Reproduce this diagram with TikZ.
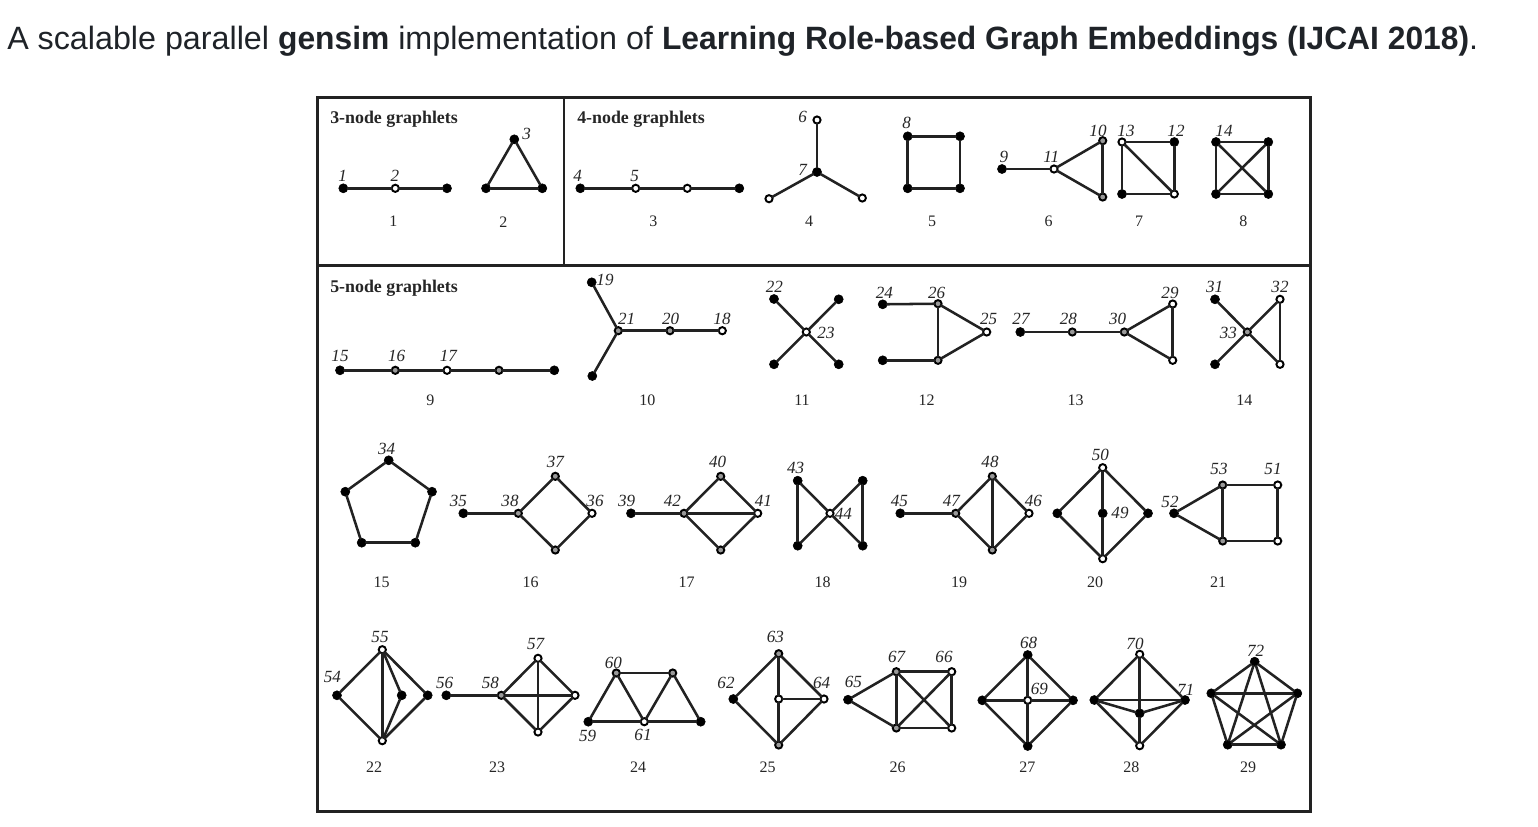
\documentclass[tikz,border=0pt]{standalone}
\usepackage{fontspec}
\setmainfont{Liberation Serif}
\newfontfamily\titlefont[BoldFeatures={FakeStretch=0.985}]{Liberation Sans}
\definecolor{ink}{HTML}{1F2328}
\definecolor{lnc}{HTML}{222222}
\tikzset{
  vtx/.style={circle,inner sep=0pt,outer sep=0pt,draw=black},
  blk/.style={vtx,fill=black,minimum size=6.8pt,line width=0.4pt},
  wht/.style={vtx,fill=white,minimum size=5.4pt,line width=1.45pt},
  gry/.style={vtx,fill=black!40,minimum size=5.4pt,line width=1.45pt},
  gedge/.style={draw=lnc,line width=1.9pt,line cap=round},
  gframe/.style={draw=lnc,line width=1.8pt},
  lbl/.style={font=\fontsize{12.8}{13}\selectfont\itshape,text=black!85,inner sep=0pt},
  captxt/.style={font=\fontsize{12}{13}\selectfont,text=black!85,inner sep=0pt},
  headtxt/.style={font=\fontsize{13.4}{14}\selectfont\bfseries,text=black!85,inner sep=0pt,anchor=west},
  titl/.style={font=\fontsize{24.2}{28}\titlefont,text=ink,inner sep=0pt,anchor=west}
}
\newcommand\bn[3]{\node[blk] (#1) at (#2,#3) {};}
\newcommand\wn[3]{\node[wht] (#1) at (#2,#3) {};}
\newcommand\gn[3]{\node[gry] (#1) at (#2,#3) {};}
\newcommand\lb[3]{\node[lbl] (lab#3) at (#1,#2) {#3};}
\newcommand\cp[3]{\node[captxt] (cap#3) at (#1,#2) {#3};}
\newcommand\ed[1]{\foreach \p/\q in {#1} {\draw[gedge] (\p) -- (\q);}}
\begin{document}
\begin{tikzpicture}[x=0.75pt,y=-0.75pt]
\useasboundingbox[fill=white] (0,0) rectangle (1538,826);
\node[titl] (title) at (7,41.5) {A scalable parallel \textbf{gensim} implementation of \textbf{Learning Role-based Graph Embeddings (IJCAI 2018)}.};
% frame
\coordinate (fa) at (317.5,97.5); \coordinate (fb) at (1310.5,811.5);
\coordinate (hl) at (317.5,265.5); \coordinate (hr) at (1310.5,265.5);
\coordinate (vt) at (564,97.5); \coordinate (vb) at (564,265.5);
\draw[gframe] (fa) rectangle (fb);
\draw[gframe] (hl) -- (hr);
\draw[gframe] (vt) -- (vb);
\node[headtxt] (h3) at (330,119.5) {3-node graphlets};
\node[headtxt] (h4) at (577,119.5) {4-node graphlets};
\node[headtxt] (h5) at (330,288.5) {5-node graphlets};
% G1
\bn{a1}{343.3}{188.3}\wn{a2}{395.3}{188.3}\bn{a3}{447}{188.3}
\ed{a1/a2,a2/a3}
\lb{342.7}{176}{1}\lb{395}{176}{2}
% G2
\bn{b1}{514.3}{139.3}\bn{b2}{486}{188.3}\bn{b3}{542.3}{188.3}
\ed{b1/b2,b2/b3,b3/b1}
\lb{526.7}{134}{3}
% G3
\bn{c1}{580.3}{188.3}\wn{c2}{635.7}{188.3}\wn{c3}{687.3}{188.3}\bn{c4}{739.3}{188.3}
\ed{c1/c2,c2/c3,c3/c4}
\lb{577.7}{176}{4}\lb{634.7}{176}{5}
% G4
\bn{d0}{817}{172}\wn{d1}{817}{120}\wn{d2}{862.3}{198}\wn{d3}{769}{198.7}
\ed{d0/d1,d0/d2,d0/d3}
\lb{802.7}{116.7}{6}\lb{802.7}{170}{7}
% G5
\bn{e1}{907.7}{136.3}\bn{e2}{960}{136.3}\bn{e3}{907.7}{188.3}\bn{e4}{960}{188.3}
\ed{e1/e2,e2/e4,e4/e3,e3/e1}
\lb{906.7}{123.3}{8}
% G6
\bn{f1}{1002}{169}\wn{f2}{1054}{169}\gn{f3}{1102.7}{140.7}\gn{f4}{1102.7}{197}
\ed{f1/f2,f2/f3,f3/f4,f4/f2}
\lb{1004}{156.7}{9}\lb{1051.3}{156.7}{11}\lb{1098}{131.3}{10}
% G7
\wn{g1}{1122}{142}\bn{g2}{1174.3}{142}\bn{g3}{1122}{194}\wn{g4}{1174.3}{194}
\ed{g1/g2,g2/g4,g4/g3,g3/g1,g1/g4}
\lb{1126}{131.3}{13}\lb{1176}{131.3}{12}
% G8
\bn{h1}{1216}{142}\bn{h2}{1268.3}{142}\bn{h3b}{1216}{194}\bn{h4b}{1268.3}{194}
\ed{h1/h2,h2/h4b,h4b/h3b,h3b/h1,h1/h4b,h2/h3b}
\lb{1224}{131.3}{14}
% G9
\bn{i1}{340}{370.3}\gn{i2}{395.3}{370.3}\wn{i3}{447}{370.3}\gn{i4}{499}{370.3}\bn{i5}{554.3}{370.3}
\ed{i1/i2,i2/i3,i3/i4,i4/i5}
\lb{340}{355.7}{15}\lb{396.7}{355.7}{16}\lb{448.3}{355.7}{17}
% G10
\bn{j1}{591.7}{282.3}\gn{j2}{618.3}{330.7}\gn{j3}{670}{330.7}\wn{j4}{722.3}{330.7}\bn{j5}{592.3}{376}
\ed{j1/j2,j5/j2,j2/j3,j3/j4}
\lb{605}{279.7}{19}\lb{626.7}{319.3}{21}\lb{670.7}{319.3}{20}\lb{722}{319.3}{18}
% G11
\bn{k1}{774}{299}\wn{k0}{806.3}{332}\bn{k2}{838.7}{299.3}\bn{k3}{838.7}{364.3}\bn{k4}{774}{364.3}
\ed{k1/k0,k2/k0,k3/k0,k4/k0}
\lb{774.3}{287}{22}\lb{826}{332.7}{23}
% G12
\bn{l1}{882.7}{304.3}\gn{l2}{938}{303.7}\wn{l3}{986.7}{332}\gn{l4}{938}{360.3}\bn{l5}{882.7}{360.3}
\ed{l1/l2,l2/l3,l3/l4,l4/l2,l4/l5}
\lb{884.3}{293.3}{24}\lb{936.7}{293.3}{26}\lb{988.7}{319}{25}
% G13
\bn{m1}{1020.3}{332}\gn{m2}{1072.3}{332}\gn{m3}{1124.3}{332}\wn{m4}{1172.7}{304}\wn{m5}{1172.7}{360.3}
\ed{m1/m2,m2/m3,m3/m4,m4/m5,m5/m3}
\lb{1021}{319}{27}\lb{1068.3}{319}{28}\lb{1117.7}{319}{30}\lb{1170}{293.3}{29}
% G14
\bn{n1}{1215}{299.3}\wn{n2}{1280}{299.3}\gn{n0}{1247.3}{332}\bn{n3}{1215}{364.3}\wn{n4}{1280}{364.3}
\ed{n1/n0,n3/n0,n2/n0,n4/n0,n2/n4}
\lb{1214.7}{287}{31}\lb{1280}{287}{32}\lb{1228.3}{332.7}{33}
% G15
\bn{o1}{388.7}{460.3}\bn{o2}{432}{491.7}\bn{o3}{415.3}{542.7}\bn{o4}{361.7}{542.7}\bn{o5}{345.3}{491.7}
\ed{o1/o2,o2/o3,o3/o4,o4/o5,o5/o1}
\lb{386.7}{449}{34}
% G16
\bn{p1}{463.3}{513.3}\gn{p2}{518.3}{513.3}\gn{p3}{555.3}{476.3}\wn{p4}{592}{513.3}\gn{p5}{555.3}{550}
\ed{p1/p2,p2/p3,p3/p4,p4/p5,p5/p2}
\lb{458.3}{501}{35}\lb{510}{501}{38}\lb{555.3}{461.7}{37}\lb{595}{501}{36}
% G17
\bn{q1}{631}{513.3}\gn{q2}{684}{513.3}\gn{q3}{720.7}{476.3}\wn{q4}{757.7}{513.3}\gn{q5}{720.7}{550}
\ed{q1/q2,q2/q3,q3/q4,q4/q5,q5/q2,q2/q4}
\lb{626.7}{501}{39}\lb{672.3}{501}{42}\lb{717.7}{461.7}{40}\lb{763.3}{501}{41}
% G18
\bn{r1}{797.7}{480.7}\bn{r2}{862.7}{480.7}\wn{r0}{830}{513.3}\bn{r3}{797.7}{545.7}\bn{r4}{862.7}{545.7}
\ed{r1/r3,r2/r4,r1/r0,r3/r0,r2/r0,r4/r0}
\lb{795.7}{468.3}{43}\lb{843.3}{514.3}{44}
% G19
\bn{s1}{900.3}{513.3}\gn{s2}{955.7}{513.3}\gn{s3}{992.3}{476.3}\wn{s4}{1029}{513.3}\gn{s5}{992.3}{550}
\ed{s1/s2,s2/s3,s3/s4,s4/s5,s5/s2,s3/s5}
\lb{899.3}{501}{45}\lb{951.3}{501}{47}\lb{990}{461.7}{48}\lb{1033.3}{501}{46}
% G20
\wn{t1}{1102.7}{467.7}\bn{t2}{1057.3}{513.3}\bn{t0}{1102.7}{513.3}\bn{t3}{1148}{513.3}\wn{t4}{1102.7}{558.7}
\ed{t1/t2,t2/t4,t4/t3,t3/t1,t1/t0,t0/t4}
\lb{1100.3}{455.3}{50}\lb{1120}{513.3}{49}
% G21
\bn{u1}{1174}{513.3}\gn{u2}{1222.7}{485}\wn{u3}{1277.7}{485}\gn{u4}{1222.7}{541}\wn{u5}{1277.7}{541}
\ed{u1/u2,u2/u3,u3/u5,u5/u4,u4/u1,u2/u4}
\lb{1170}{501.7}{52}\lb{1219}{469}{53}\lb{1273}{469}{51}
% G22
\bn{v1}{337}{695.3}\wn{v2}{382.3}{649.7}\bn{v3}{401.7}{695.3}\bn{v4}{427.7}{695.3}\wn{v5}{382.3}{740.7}
\ed{v1/v2,v1/v5,v2/v5,v2/v3,v3/v5,v2/v4,v4/v5}
\lb{332.3}{676.7}{54}\lb{380}{637.3}{55}
% G23
\bn{w1}{446.3}{695.3}\gn{w2}{501.3}{695.3}\wn{w3}{538}{658.3}\wn{w4}{575}{695.3}\wn{w5}{538}{732}
\ed{w1/w2,w2/w3,w3/w4,w4/w5,w5/w2,w2/w4,w3/w5}
\lb{444.7}{682.7}{56}\lb{490.3}{682.7}{58}\lb{535.7}{644}{57}
% G24
\bn{x1}{588.3}{721.7}\gn{x2}{616.3}{673}\gn{x3}{672.7}{673}\wn{x4}{644.3}{721.7}\bn{x5}{700.7}{721.7}
\ed{x1/x2,x2/x3,x2/x4,x4/x3,x3/x5,x1/x4,x4/x5}
\lb{613.3}{663.3}{60}\lb{587.7}{735.7}{59}\lb{643}{735}{61}
% G25
\bn{y1}{733.3}{699}\gn{y2}{778.7}{653.7}\wn{y0}{778.7}{699}\gn{y3}{778.7}{745}\wn{y4}{824}{699}
\ed{y1/y2,y2/y4,y4/y3,y3/y1,y2/y0,y0/y3,y0/y4}
\lb{726}{683.3}{62}\lb{775.3}{637.3}{63}\lb{821.7}{682.7}{64}
% G26
\bn{z1}{848}{699.7}\gn{z2}{896.3}{671.7}\wn{z3}{951.7}{671.7}\gn{z4}{896.3}{728}\wn{z5}{951.7}{728}
\ed{z1/z2,z1/z4,z2/z3,z3/z5,z5/z4,z4/z2,z2/z5,z3/z4}
\lb{853.3}{682.3}{65}\lb{896.7}{656.7}{67}\lb{944}{657.3}{66}
% G27
\bn{aa1}{1027.7}{655}\bn{aa2}{982.3}{700.3}\wn{aa0}{1027.7}{700.3}\bn{aa3}{1073}{700.3}\bn{aa4}{1027.7}{746}
\ed{aa1/aa2,aa2/aa4,aa4/aa3,aa3/aa1,aa1/aa0,aa0/aa4,aa2/aa0,aa0/aa3}
\lb{1028.7}{643.3}{68}\lb{1039.3}{689.3}{69}
% G28
\wn{ab1}{1139.7}{654.3}\bn{ab2}{1094.3}{700}\bn{ab3}{1185}{700}\bn{ab0}{1139.7}{713.3}\wn{ab4}{1139.7}{745.7}
\ed{ab1/ab2,ab2/ab4,ab4/ab3,ab3/ab1,ab2/ab3,ab1/ab0,ab0/ab4,ab2/ab0,ab3/ab0}
\lb{1135}{644}{70}\lb{1185.7}{690}{71}
% G29
\bn{ac1}{1254.7}{661.7}\bn{ac2}{1297.3}{693.3}\bn{ac3}{1281}{744.7}\bn{ac4}{1227.7}{744.7}\bn{ac5}{1211.3}{693.3}
\ed{ac1/ac2,ac2/ac3,ac3/ac4,ac4/ac5,ac5/ac1,ac1/ac3,ac1/ac4,ac2/ac4,ac2/ac5,ac3/ac5}
\lb{1255.7}{651}{72}
% captions
\cp{393.3}{221.7}{1}\cp{503.3}{221.7}{2}\cp{653.3}{221.7}{3}\cp{809}{221.7}{4}
\cp{932}{221.7}{5}\cp{1048.7}{221.7}{6}\cp{1139}{221.7}{7}\cp{1243.3}{221.7}{8}
\cp{430.3}{400}{9}\cp{647.3}{400}{10}\cp{802}{400}{11}\cp{926.7}{400}{12}\cp{1075.7}{400}{13}\cp{1244.3}{400}{14}
\cp{381.7}{582}{15}\cp{530.7}{582}{16}\cp{686.7}{582}{17}\cp{822.7}{582}{18}\cp{959}{582}{19}\cp{1095}{582}{20}\cp{1218}{582}{21}
\cp{374}{767.3}{22}\cp{497}{767.3}{23}\cp{638}{767.3}{24}\cp{767.7}{767.3}{25}\cp{897.7}{767.3}{26}\cp{1027.3}{767.3}{27}\cp{1131.3}{767.3}{28}\cp{1248}{767.3}{29}
\end{tikzpicture}
\end{document}
